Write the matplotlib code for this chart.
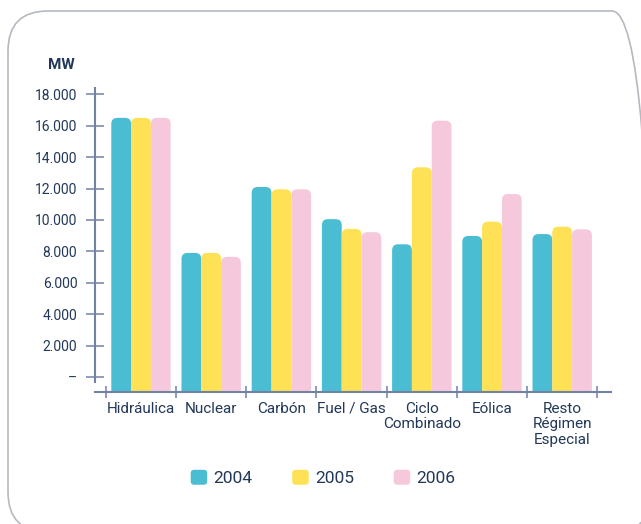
import matplotlib.pyplot as plt
import numpy as np
from matplotlib.patches import FancyBboxPatch, Patch
from matplotlib.legend_handler import HandlerPatch
from matplotlib.transforms import IdentityTransform

# Potencia instalada (MW)
categories = ['Hidráulica', 'Nuclear', 'Carbón', 'Fuel / Gas', 'Ciclo\nCombinado',
              'Eólica', 'Resto\nRégimen\nEspecial']
years = ['2004', '2005', '2006']
mw_2004 = [16500, 7900, 12100, 10050, 8450, 8980, 9100]
mw_2005 = [16500, 7900, 11950, 9430, 13350, 9890, 9570]
mw_2006 = [16500, 7650, 11950, 9220, 16320, 11650, 9400]
yticks = [0, 2000, 4000, 6000, 8000, 10000, 12000, 14000, 16000, 18000]

colors = ['#4bbdd3', '#fee155', '#f6c8dc']
axis_col = '#7083a6'
text_col = '#223858'

plt.rcParams['font.family'] = ['Roboto', 'DejaVu Sans']
plt.rcParams['savefig.bbox'] = 'standard'

W, H = 641, 524
fig = plt.figure(figsize=(W / 100, H / 100), dpi=100)

# rounded frame around the whole chart (pixel coords, origin bottom-left),
# running off the right and bottom edges of the picture
frame = FancyBboxPatch((8, H - 532), 644, 521,
                       boxstyle='round,pad=0,rounding_size=40',
                       transform=IdentityTransform(),
                       facecolor='none', edgecolor='#b5b9c0', linewidth=1.2,
                       zorder=-1)
frame.set_clip_box(fig.bbox)
frame.set_clip_on(True)
fig.patches.append(frame)

ax_l, ax_r, ax_t, ax_b = 95, 611, 88, 392
ax = fig.add_axes([ax_l / W, (H - ax_b) / H, (ax_r - ax_l) / W, (ax_b - ax_t) / H])
ax.patch.set_alpha(0)

xlo, xhi = -0.655, 6.695
ylo, yhi = -955, 18400
ax.set_xlim(xlo, xhi)
ax.set_ylim(ylo, yhi)

# rounded-top bars
x = np.arange(len(categories))
w = 0.282
px_x = (xhi - xlo) / (ax_r - ax_l)
px_y = (yhi - ylo) / (ax_b - ax_t)
r = 6 * px_x
for k, vals in enumerate([mw_2004, mw_2005, mw_2006]):
    for xi, v in zip(x, vals):
        b = ylo - 3000
        p = FancyBboxPatch((xi + (k - 1) * w - w / 2, b), w, v - b,
                           boxstyle='round,pad=0,rounding_size=%f' % r,
                           mutation_aspect=px_y / px_x,
                           facecolor=colors[k], edgecolor='none')
        ax.add_patch(p)

for s in ['top', 'right']:
    ax.spines[s].set_visible(False)
for s in ['left', 'bottom']:
    ax.spines[s].set_color(axis_col)
    ax.spines[s].set_linewidth(1.5)
ax.spines['left'].set_bounds(-318, yhi)

ax.set_yticks(yticks)
ax.set_yticklabels(['–' if t == 0 else f'{t:,}'.replace(',', '.') for t in yticks])
ax.tick_params(axis='y', direction='inout', length=13.5, width=1.1, color=axis_col,
               pad=6, labelsize=10, labelcolor=text_col)

ax.set_xticks(np.arange(len(categories) + 1) - 0.5)
ax.set_xticklabels([])
ax.set_xticks(x, minor=True)
ax.set_xticklabels(categories, minor=True, linespacing=1.15)
ax.tick_params(axis='x', which='major', direction='inout', length=8.5, width=1.1,
               color=axis_col)
ax.tick_params(axis='x', which='minor', length=0, pad=7, labelsize=11,
               labelcolor=text_col)

fig.text(48 / W, 1 - 65 / H, 'MW', fontsize=11, fontweight='bold', color=text_col,
         va='center', ha='left')

def rounded_square(legend, orig_handle, xdescent, ydescent, width, height, fontsize):
    return FancyBboxPatch((-xdescent, -ydescent), width, height,
                          boxstyle='round,pad=0,rounding_size=2.5')

handles = [Patch(facecolor=c, edgecolor='none') for c in colors]
fig.legend(handles, years, loc='center', bbox_to_anchor=(323 / W, 1 - 478 / H),
           ncol=3, frameon=False, fontsize=12.5, labelcolor=text_col,
           handlelength=0.95, handleheight=0.95, handletextpad=0.35,
           columnspacing=2.3,
           handler_map={Patch: HandlerPatch(patch_func=rounded_square)})

plt.savefig('out.png', dpi=100)
